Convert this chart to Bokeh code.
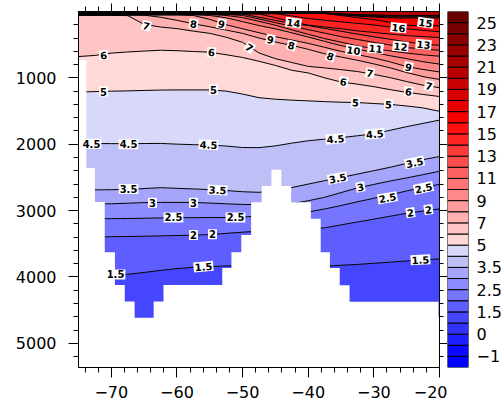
from bokeh.plotting import figure
from bokeh.models import Range1d, LinearAxis, FixedTicker, CustomLabelingPolicy
from bokeh.layouts import row
from bokeh.embed import file_html
from bokeh.resources import INLINE
from bokeh.core.properties import value

# ---------------- data ----------------
lon = [-75.0, -72.5, -70.0, -67.5, -65.0, -62.5, -60.0, -57.5, -55.0, -52.5, -50.0, -47.5,
       -45.0, -42.5, -40.0, -37.5, -35.0, -32.5, -30.0, -27.5, -25.0, -22.5, -20.0]

# depth (m) of each isotherm along the section
iso_1_5 = [3970, 3970, 3965, 3960, 3933, 3902, 3874, 3855, 3846, 3834, 3830, 3835, 3835, 3835, 3838, 3840, 3824, 3812, 3794, 3778, 3759, 3739, 3730]
iso_2 = [3400, 3400, 3394, 3391, 3387, 3382, 3376, 3370, 3362, 3344, 3326, 3311, 3300, 3292, 3279, 3260, 3216, 3172, 3129, 3085, 3041, 3007, 2975]
iso_2_5 = [3123, 3123, 3122, 3119, 3116, 3111, 3108, 3107, 3105, 3104, 3098, 3081, 3067, 3044, 3022, 2976, 2924, 2867, 2815, 2764, 2704, 2653, 2604]
iso_3 = [2900, 2900, 2898, 2889, 2880, 2877, 2877, 2877, 2887, 2898, 2908, 2911, 2911, 2896, 2852, 2800, 2729, 2659, 2606, 2554, 2508, 2459, 2407]
iso_3_5 = [2690, 2689, 2685, 2682, 2668, 2655, 2665, 2674, 2685, 2698, 2716, 2725, 2693, 2653, 2601, 2550, 2501, 2450, 2399, 2347, 2289, 2233, 2185]
iso_4_5 = [1988, 1990, 1991, 1993, 1990, 1988, 1999, 2007, 2012, 2028, 2050, 2052, 2025, 1984, 1948, 1924, 1901, 1873, 1843, 1790, 1735, 1686, 1637]
iso_5 = [1215, 1207, 1201, 1196, 1190, 1184, 1182, 1182, 1182, 1200, 1244, 1299, 1322, 1336, 1347, 1358, 1367, 1372, 1387, 1400, 1424, 1453, 1504]
iso_6 = [679, 662, 627, 610, 596, 584, 591, 603, 613, 652, 693, 750, 813, 886, 926, 1000, 1062, 1095, 1133, 1178, 1218, 1250, 1281]
iso_7 = [58, 58, 58, 62, 194, 234, 258, 296, 329, 388, 465, 625, 711, 769, 827, 850, 876, 905, 948, 997, 1056, 1111, 1148]
iso_8 = [55, 55, 55, 55, 55, 87, 133, 185, 230, 280, 330, 400, 460, 510, 570, 637, 686, 735, 790, 850, 920, 981, 1025]
iso_9 = [52, 52, 52, 52, 52, 52, 52, 60, 119, 200, 260, 320, 380, 430, 480, 540, 600, 650, 700, 760, 830, 874, 911]
iso_10 = [49, 49, 49, 49, 49, 49, 49, 49, 60, 95, 153, 212, 261, 321, 385, 450, 514, 566, 618, 667, 711, 757, 793]
iso_11 = [46, 46, 46, 46, 46, 46, 46, 46, 46, 60, 92, 148, 207, 277, 344, 409, 462, 517, 559, 594, 627, 653, 674]
iso_12 = [43, 43, 43, 43, 43, 43, 43, 43, 43, 43, 60, 111, 169, 221, 274, 326, 379, 422, 465, 505, 544, 564, 585]
iso_13 = [40, 40, 40, 40, 40, 40, 40, 40, 40, 40, 40, 86, 135, 182, 213, 255, 298, 341, 381, 419, 459, 490, 511]
iso_14 = [37, 37, 37, 37, 37, 37, 37, 37, 37, 37, 37, 37, 93, 159, 204, 234, 259, 292, 316, 341, 363, 378, 393]
iso_15 = [34, 34, 34, 34, 34, 34, 34, 34, 34, 34, 34, 34, 34, 68, 105, 132, 156, 179, 203, 233, 262, 284, 304]
iso_16 = [31, 31, 31, 31, 31, 31, 31, 31, 31, 31, 31, 31, 31, 31, 31, 31, 61, 92, 123, 164, 209, 215, 215]
iso_17 = [28, 28, 28, 28, 28, 28, 28, 28, 28, 28, 28, 28, 28, 28, 28, 28, 50, 70, 85, 95, 100, 100, 100]
iso_18 = [25, 25, 25, 25, 25, 25, 25, 25, 25, 25, 25, 25, 25, 25, 25, 25, 45, 60, 72, 80, 85, 85, 85]
iso_19 = [22, 22, 22, 22, 22, 22, 22, 22, 22, 22, 22, 22, 22, 22, 22, 22, 40, 52, 62, 68, 72, 72, 72]
iso_20 = [19, 19, 19, 19, 19, 19, 19, 19, 19, 19, 19, 19, 19, 19, 19, 19, 35, 45, 52, 57, 60, 60, 60]

iso_temps = [1.5, 2, 2.5, 3, 3.5, 4.5, 5, 6, 7, 8, 9, 10, 11, 12, 13, 14, 15, 16, 17, 18, 19, 20]
iso_depths = [iso_1_5, iso_2, iso_2_5, iso_3, iso_3_5, iso_4_5, iso_5, iso_6, iso_7, iso_8, iso_9,
              iso_10, iso_11, iso_12, iso_13, iso_14, iso_15, iso_16, iso_17, iso_18, iso_19, iso_20]

# sea floor (white mask): column edges (lon) and depth where data stops
topo_west = [-75.0, -73.8, -72.5, -71.0, -69.45, -67.95, -66.45, -63.55, -62.05, -53.1, -51.7, -50.2,
             -48.7, -47.1, -45.6, -44.1, -42.6, -39.6, -38.1, -36.7, -35.2, -33.7, -20.15]
topo_east = [-73.8, -72.5, -71.0, -69.45, -67.95, -66.45, -63.55, -62.05, -53.1, -51.7, -50.2, -48.7,
             -47.1, -45.6, -44.1, -42.6, -39.6, -38.1, -36.7, -35.2, -33.7, -20.15, -20.0]
topo_depth = [735, 2360, 2870, 3630, 4120, 4370, 4615, 4370, 4120, 3865, 3630, 3370,
              2876, 2630, 2383, 2630, 2876, 3123, 3630, 3864, 4126, 4373, 4600]

# contour levels and colours (colour k fills the interval below levels[k])
levels = [-1, -0.5, 0, 1, 1.5, 2, 2.5, 3, 3.5, 4.5, 5, 6, 7, 8, 9, 10, 11, 12, 13, 14, 15, 16,
          17, 18, 19, 20, 21, 22, 23, 24, 25]
colors = ["#0000ff", "#0a0aff", "#1e1eff", "#3232ff", "#4646ff", "#5e5eff", "#7575ff", "#8c8cff",
          "#a5a5fb", "#bfbff8", "#d8d8fa",
          "#ffd8d8", "#ffc4c4", "#ffb0b0", "#ff9c9c", "#ff8888", "#ff7474", "#ff6060", "#ff4c4c",
          "#ff3838", "#ff2424", "#ff1010", "#f80000", "#e80000", "#d80000", "#c80000", "#b80000",
          "#a80000", "#980000", "#880000", "#780000", "#680000"]

# contour labels
lab_text = ["7", "8", "9", "14", "9", "8", "7", "10", "11", "12", "13", "16", "15", "8", "9", "7",
            "6", "7", "6", "5", "5", "6", "6", "5", "5", "4.5", "4.5", "4.5", "4.5", "4.5",
            "3.5", "3.5", "3.5", "3.5", "3", "3", "3", "2.5", "2.5", "2.5", "2.5",
            "2", "2", "2", "2", "1.5", "1.5", "1.5"]
lab_lon = [-64.64, -57.48, -53.21, -42.25, -45.75, -42.55, -48.95, -33.10, -29.75, -25.94, -22.44,
           -26.25, -22.14, -36.61, -24.73, -30.59, -34.63, -21.60, -24.73, -32.80, -27.77,
           -71.19, -54.74, -71.19, -54.43, -73.02, -67.38, -55.19, -35.85, -29.87,
           -67.38, -53.82, -35.54, -23.81, -63.73, -57.48, -32.04, -60.53, -51.08, -27.93, -22.44,
           -57.48, -54.59, -24.42, -21.68, -69.36, -55.96, -22.90]
lab_depth = [215, 185, 185, 170, 422, 511, 541, 585, 556, 526, 496, 244, 170, 674, 837, 926,
             1059, 1118, 1207, 1370, 1400, 659, 615, 1207, 1178, 1993, 2000, 2007, 1919, 1844,
             2674, 2689, 2511, 2274, 2881, 2881, 2644, 3104, 3104, 2807, 2659,
             3370, 3356, 3030, 2985, 3963, 3844, 3741]
lab_angle = [-15, -8, -12, -8, -10, -15, -35, -8, -5, -5, -5, -5, -8, -20, -12, -10,
             -10, -12, -8, -3, -3, 5, -3, 0, 0, 0, 0, -3, 5, 5,
             0, -3, 12, 12, 0, 0, 10, 0, 0, 10, 12,
             0, 0, 8, 8, 0, 5, 3]

x_ticks = [-70, -60, -50, -40, -30, -20]
y_ticks = [1000, 2000, 3000, 4000, 5000]

# ---------------- plot ----------------
FONT = "DejaVu Sans"
H = 413
depth_max = 5365

p = figure(width=447, height=H, x_range=Range1d(-75, -20), y_range=Range1d(depth_max, 0),
           output_backend="svg", toolbar_location=None,
           x_axis_location=None, y_axis_location=None,
           min_border_left=78, min_border_right=8, min_border_top=8, min_border_bottom=43)
p.grid.visible = False
p.outline_line_color = "black"
p.background_fill_color = "white"
p.border_fill_color = "white"

def col_for(lo):
    return colors[levels.index(lo) + 1]

n = len(lon)
# bottom band (below the deepest isotherm)
p.varea(x=lon, y1=iso_depths[0], y2=[depth_max] * n, fill_color=col_for(1))
for k in range(len(iso_temps) - 1):
    p.varea(x=lon, y1=iso_depths[k + 1], y2=iso_depths[k], fill_color=col_for(iso_temps[k]))
p.varea(x=lon, y1=[0] * n, y2=iso_depths[-1], fill_color=col_for(iso_temps[-1]))

for d in iso_depths:
    p.line(x=lon, y=d, line_color="black", line_width=1)

# sea floor as one stepped polygon
bx = [topo_west[0]]
by = [depth_max]
for w, e, d in zip(topo_west, topo_east, topo_depth):
    bx += [w, e]
    by += [d, d]
bx.append(topo_east[-1])
by.append(depth_max)
p.patch(x=bx, y=by, fill_color="white", line_color=None)

p.text(x=lab_lon, y=lab_depth, text=lab_text, angle=lab_angle, angle_units="deg",
       text_align="center", text_baseline="middle", text_font=value(FONT),
       text_font_size="10px", text_font_style="bold", text_color="black",
       background_fill_color="white", padding=1)

def minus(v):
    return ("%g" % v).replace("-", "\u2212")

xt = FixedTicker(ticks=x_ticks, minor_ticks=list(range(-74, -19, 2)))
yt = FixedTicker(ticks=y_ticks, minor_ticks=list(range(200, 5400, 200)))

def style(ax, labels, tick_out, minor_out, standoff):
    ax.axis_line_color = "black"
    ax.major_tick_line_color = "black"
    ax.minor_tick_line_color = "black"
    ax.major_tick_in = 0
    ax.minor_tick_in = 0
    ax.major_tick_out = tick_out
    ax.minor_tick_out = minor_out
    ax.major_label_standoff = standoff
    ax.major_label_text_font = FONT
    ax.major_label_text_color = "black"
    ax.major_label_text_font_size = "16px" if labels else "0px"
    if not labels:
        ax.major_label_policy = CustomLabelingPolicy(
            code="for (let i = 0; i < indices.size; i++) { indices.unset(i) }\nreturn indices")

ax_b = LinearAxis(ticker=xt, major_label_overrides={t: minus(t) for t in x_ticks})
style(ax_b, True, 10, 5, 8)
p.add_layout(ax_b, "below")
ax_t = LinearAxis(ticker=xt)
style(ax_t, False, 8, 5, 0)
p.add_layout(ax_t, "above")
ax_l = LinearAxis(ticker=yt)
style(ax_l, True, 10, 5, 12)
p.add_layout(ax_l, "left")
ax_r = LinearAxis(ticker=yt)
style(ax_r, False, 8, 4, 0)
p.add_layout(ax_r, "right")

# ---------------- colour bar ----------------
nbox = len(colors)
cb = figure(width=57, height=H, x_range=Range1d(0, 1), y_range=Range1d(0, nbox),
            output_backend="svg", toolbar_location=None,
            x_axis_location=None, y_axis_location=None,
            min_border_left=0, min_border_right=34, min_border_top=11, min_border_bottom=H - 367)
cb.grid.visible = False
cb.outline_line_color = None
cb.border_fill_color = "white"
cb.quad(left=0, right=1, bottom=list(range(nbox)), top=list(range(1, nbox + 1)),
        fill_color=colors, line_color="black", line_width=1)
cb_ticks = list(range(1, nbox, 2))
cax = LinearAxis(ticker=FixedTicker(ticks=cb_ticks, minor_ticks=[]),
                 major_label_overrides={t: minus(levels[t - 1]) for t in cb_ticks})
style(cax, True, 0, 0, 8)
cax.axis_line_color = None
cax.major_tick_line_color = None
cb.add_layout(cax, "right")

layout = row(p, cb)
tmpl = """{% block postamble %}<style>html, body { margin: 0; padding: 0; overflow: hidden; }</style>{% endblock %}"""
open("out.html", "w").write(file_html(layout, INLINE, title="section", template=tmpl))
